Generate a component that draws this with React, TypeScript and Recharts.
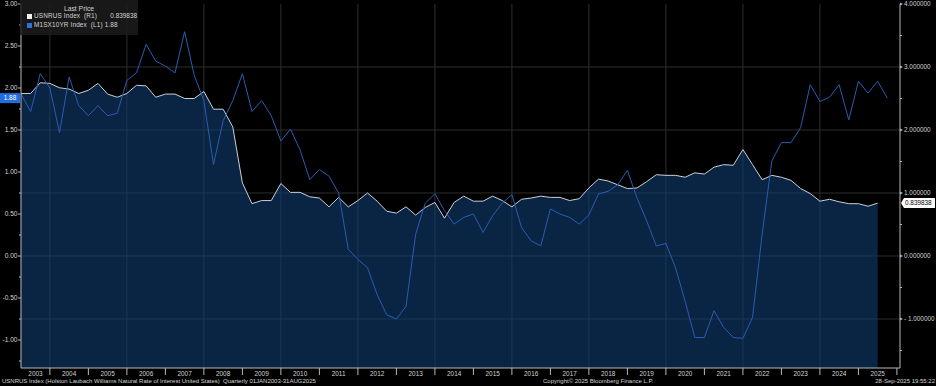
import React from 'react';
import { ComposedChart, Area, Line, XAxis, YAxis, CartesianGrid } from 'recharts';

// Quarterly observations from Q1 2003 through Q3 2025 (decimal quarter-end years)
const FIRST_YEAR = 2003;
const QUARTER_COUNT = 91;
const quarterTimes: number[] = Array.from({ length: QUARTER_COUNT }, (_, i) => FIRST_YEAR + 0.25 * (i + 1));

// USNRUS Index (R1) - Holston Laubach Williams natural rate, right axis
const naturalRate: number[] = [
  2.58, 2.58, 2.75, 2.74, 2.67, 2.65, 2.58, 2.63, 2.74, 2.57,
  2.52, 2.58, 2.71, 2.70, 2.52, 2.57, 2.57, 2.50, 2.50, 2.61,
  2.33, 2.33, 2.05, 1.16, 0.83, 0.88, 0.88, 1.15, 1.01, 1.01,
  0.94, 0.92, 0.78, 0.93, 0.78, 0.88, 1.00, 0.87, 0.71, 0.68,
  0.78, 0.65, 0.77, 0.85, 0.60, 0.85, 0.95, 0.87, 0.87, 0.95,
  0.88, 0.78, 0.90, 0.92, 0.95, 0.93, 0.93, 0.88, 0.91,
  1.08, 1.22, 1.19, 1.13, 1.07, 1.08, 1.18, 1.29, 1.28, 1.28,
  1.25, 1.32, 1.30, 1.41, 1.45, 1.44, 1.69, 1.45, 1.21, 1.28,
  1.25, 1.20, 1.07, 0.99, 0.87, 0.90, 0.86, 0.83, 0.83, 0.79, 0.839838,
];

// M1SX10YR Index (L1), left axis
const tenYear: number[] = [
  1.93, 1.72, 2.17, 2.00, 1.47, 2.13, 1.79, 1.67, 1.79, 1.67,
  1.70, 2.09, 2.18, 2.52, 2.32, 2.26, 2.18, 2.67, 2.15, 1.85,
  1.09, 1.61, 1.85, 2.17, 1.72, 1.85, 1.67, 1.37, 1.51, 1.26,
  0.91, 1.03, 0.95, 0.75, 0.08, -0.04, -0.14, -0.46, -0.70, -0.75,
  -0.60, 0.26, 0.63, 0.74, 0.54, 0.38, 0.46, 0.50, 0.28, 0.48,
  0.63, 0.73, 0.34, 0.18, 0.12, 0.56, 0.50, 0.46, 0.38,
  0.49, 0.74, 0.77, 0.85, 1.02, 0.69, 0.42, 0.12, 0.15, -0.14,
  -0.54, -0.97, -0.97, -0.65, -0.85, -0.97, -0.98, -0.73, 0.26, 1.13,
  1.35, 1.35, 1.53, 2.04, 1.84, 1.89, 2.04, 1.62, 2.08, 1.94, 2.08, 1.88,
];

const yearLabels: string[] = [
  '2003', '2004', '2005', '2006', '2007', '2008', '2009', '2010', '2011', '2012', '2013', '2014',
  '2015', '2016', '2017', '2018', '2019', '2020', '2021', '2022', '2023', '2024', '2025',
];
const yearBoundaries: number[] = [
  2004, 2005, 2006, 2007, 2008, 2009, 2010, 2011, 2012, 2013, 2014, 2015,
  2016, 2017, 2018, 2019, 2020, 2021, 2022, 2023, 2024, 2025, 2026,
];
const gridYears: number[] = [2004, 2006, 2008, 2010, 2012, 2014, 2016, 2018, 2020, 2022, 2024];
const leftTicks: number[] = [-1.25, -1, -0.75, -0.5, -0.25, 0, 0.25, 0.5, 0.75, 1, 1.25, 1.5, 1.75, 2, 2.25, 2.5, 2.75, 3];
const rightTicks: number[] = [-1.5, -1, -0.5, 0, 0.5, 1, 1.5, 2, 2.5, 3, 3.5, 4];
const rightGrid: number[] = [-1, 0, 1, 2, 3];

const X_DOMAIN: [number, number] = [2003.25, 2026.08];
const L_DOMAIN: [number, number] = [-1.333, 3];
const R_DOMAIN: [number, number] = [-1.778, 4];

const LAST_L = tenYear[tenYear.length - 1];
const LAST_R = naturalRate[naturalRate.length - 1];

const data = quarterTimes.map((t, i) => ({
  t,
  nr: i < naturalRate.length ? naturalRate[i] : null,
  ty: tenYear[i],
}));

const labelXs = yearLabels.map((y, i) => (i === 0 ? (X_DOMAIN[0] + yearBoundaries[0]) / 2 : Number(y) + 0.5));
const xTicks = [...labelXs, ...yearBoundaries].sort((a, b) => a - b);

const FONT = '"Liberation Sans Narrow", "Liberation Sans", Arial, sans-serif';
const TXT = '#d4d4d4';
const AXIS = '#b8b8b8';

const XTick = (props: any) => {
  const { x, y, payload } = props;
  const v = payload.value as number;
  if (Number.isInteger(v)) {
    return <line x1={x} x2={x} y1={y} y2={y + 7} stroke={AXIS} strokeWidth={1} />;
  }
  return (
    <text x={x} y={y + 7.5} textAnchor="middle" fill={TXT} fontSize={6.4} fontFamily={FONT}>
      {Math.floor(v)}
    </text>
  );
};

const LeftTick = (props: any) => {
  const { x, y, payload } = props;
  const v = payload.value as number;
  if (v === LAST_L) {
    return (
      <g>
        <rect x={x - 21} y={y - 5} width={20} height={10} fill="#1f6ee0" />
        <text x={x - 11} y={y + 2.3} textAnchor="middle" fill="#ffffff" fontSize={6.5} fontFamily={FONT}>
          {v.toFixed(2)}
        </text>
      </g>
    );
  }
  const major = Math.abs(v * 2 - Math.round(v * 2)) < 1e-9;
  if (!major) return <line x1={x - 2} x2={x} y1={y} y2={y} stroke={AXIS} strokeWidth={1} />;
  return (
    <g>
      <line x1={x - 3} x2={x} y1={y} y2={y} stroke={AXIS} strokeWidth={1} />
      <text x={x - 3.5} y={y + 2.3} textAnchor="end" fill={TXT} fontSize={6.6} fontFamily={FONT}>
        {v.toFixed(2)}
      </text>
    </g>
  );
};

const RightTick = (props: any) => {
  const { x, y, payload } = props;
  const v = payload.value as number;
  if (v === LAST_R) {
    return (
      <g>
        <polygon points={`${x + 1},${y} ${x + 4},${y - 5} ${x + 35},${y - 5} ${x + 35},${y + 5} ${x + 4},${y + 5}`} fill="#ffffff" />
        <text x={x + 5} y={y + 2.3} textAnchor="start" fill="#000000" fontSize={6.4} fontFamily={FONT}>
          {v.toFixed(6)}
        </text>
      </g>
    );
  }
  const major = Number.isInteger(v);
  if (!major) return <line x1={x} x2={x + 2} y1={y} y2={y} stroke={AXIS} strokeWidth={1} />;
  return (
    <g>
      <polygon points={`${x},${y - 1.5} ${x + 3},${y} ${x},${y + 1.5}`} fill={AXIS} />
      <text x={x + 4} y={y + 2.3} textAnchor="start" fill={TXT} fontSize={6.4} fontFamily={FONT}>
        {(v < 0 ? '- ' : '') + Math.abs(v).toFixed(6)}
      </text>
    </g>
  );
};

const small: React.CSSProperties = { position: 'absolute', fontFamily: FONT, color: TXT, whiteSpace: 'nowrap', lineHeight: 1 };

export default function App() {
  return (
    <div style={{ position: 'relative', width: 936, height: 386, background: '#000', overflow: 'hidden' }}>
      <style>{'body{margin:0;background:#000;}'}</style>
      <ComposedChart width={936} height={386} data={data} margin={{ top: 4, right: 0, bottom: 0, left: 0 }}>
        <CartesianGrid
          xAxisId="x"
          yAxisId="R"
          stroke="#2e2e2e"
          strokeWidth={1}
          horizontalValues={rightGrid}
          verticalValues={gridYears}
        />
        <XAxis
          xAxisId="x"
          dataKey="t"
          type="number"
          domain={X_DOMAIN}
          allowDataOverflow
          ticks={xTicks}
          interval={0}
          tick={<XTick />}
          tickLine={false}
          tickSize={0}
          tickMargin={0}
          height={18}
          axisLine={{ stroke: AXIS }}
        />
        <YAxis
          yAxisId="L"
          orientation="left"
          type="number"
          domain={L_DOMAIN}
          allowDataOverflow
          ticks={[...leftTicks, LAST_L]}
          interval={0}
          tick={<LeftTick />}
          tickLine={false}
          tickSize={0}
          tickMargin={0}
          width={21}
          axisLine={{ stroke: AXIS }}
        />
        <YAxis
          yAxisId="R"
          orientation="right"
          type="number"
          domain={R_DOMAIN}
          allowDataOverflow
          ticks={[...rightTicks, LAST_R]}
          interval={0}
          tick={<RightTick />}
          tickLine={false}
          tickSize={0}
          tickMargin={0}
          width={36}
          axisLine={{ stroke: AXIS }}
        />
        <Area
          xAxisId="x"
          yAxisId="R"
          dataKey="nr"
          type="linear"
          baseValue="dataMin"
          stroke="#c9d0d8"
          strokeWidth={1}
          fill="#113c71"
          fillOpacity={0.6}
          isAnimationActive={false}
          dot={false}
          activeDot={false}
        />
        <Line
          xAxisId="x"
          yAxisId="L"
          dataKey="ty"
          type="linear"
          stroke="#2a5cb2"
          strokeWidth={1}
          dot={false}
          activeDot={false}
          isAnimationActive={false}
        />
      </ComposedChart>

      {/* legend */}
      <div style={{ position: 'absolute', left: 20, top: 0, width: 118, height: 35, background: 'rgba(28,28,28,0.85)' }} />
      <div style={{ ...small, left: 20, width: 118, top: 6, textAlign: 'center', fontSize: 6.8 }}>Last Price</div>
      <div style={{ position: 'absolute', left: 27, top: 14, width: 5, height: 5, background: '#f2f2f2' }} />
      <div style={{ ...small, left: 34, top: 13, fontSize: 6.4, letterSpacing: 0.15 }}>USNRUS Index&nbsp;&nbsp;(R1)</div>
      <div style={{ ...small, right: 936 - 137, top: 13, fontSize: 6.4 }}>0.839838</div>
      <div style={{ position: 'absolute', left: 27, top: 23, width: 5, height: 5, background: '#2f6fe0' }} />
      <div style={{ ...small, left: 34, top: 22, fontSize: 6.4, letterSpacing: 0.15 }}>M1SX10YR Index&nbsp;&nbsp;(L1) 1.88</div>

      {/* footer */}
      <div style={{ ...small, left: 2, top: 378, fontSize: 6 }}>
        USNRUS Index (Holston Laubach Williams Natural Rate of Interest United States)&nbsp;&nbsp;Quarterly 01JAN2003-31AUG2025
      </div>
      <div style={{ ...small, left: 543, top: 378, fontSize: 6 }}>Copyright© 2025 Bloomberg Finance L.P.</div>
      <div style={{ ...small, right: 1, top: 378, fontSize: 6 }}>28-Sep-2025 19:55:22</div>
    </div>
  );
}
